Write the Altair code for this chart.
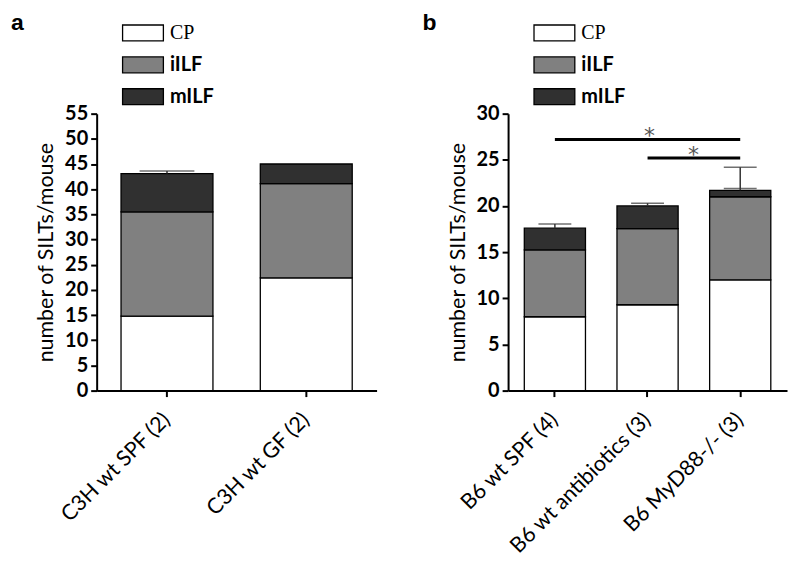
import altair as alt
import pandas as pd

# ---------------- data ----------------
segments = ["CP", "iILF", "mILF"]
seg_colors = ["#ffffff", "#808080", "#303030"]

groups_a = ["C3H wt SPF (2)", "C3H wt GF (2)"]
cp_a = [14.8, 22.4]
iilf_a = [20.7, 18.7]
milf_a = [7.6, 3.9]
errtop_a = [43.6, None]

groups_b = ["B6 wt SPF (4)", "B6 wt antibiotics (3)", "B6 MyD88-/- (3)"]
cp_b = [8.0, 9.3, 12.0]
iilf_b = [7.25, 8.25, 9.0]
milf_b = [2.35, 2.45, 0.7]
errtop_b = [18.05, 20.3, 24.2]
iilf_errtop_b = [None, None, 21.9]

sig_from = ["B6 wt SPF (4)", "B6 wt antibiotics (3)"]
sig_to = ["B6 MyD88-/- (3)", "B6 MyD88-/- (3)"]
sig_y = [27.2, 25.2]
star_group = ["B6 wt antibiotics (3)", "B6 MyD88-/- (3)"]

FONT = "Lato"


def stacked_rows(groups, cp, il, ml):
    rows = []
    for g, a, b, c in zip(groups, cp, il, ml):
        s = 0.0
        for seg, v in zip(segments, [a, b, c]):
            rows.append(dict(group=g, segment=seg, start=s, end=s + v))
            s += v
    return pd.DataFrame(rows)


def xscale(groups):
    return alt.Scale(domain=groups, paddingInner=0.34, paddingOuter=0.175)


def xaxis():
    return alt.Axis(
        title=None,
        labelAngle=-45,
        labelAlign="right",
        labelBaseline="middle",
        labelPadding=20,
        labelFontSize=21.5,
        labelFont=FONT,
        labelLimit=0,
    )


def ysettings(ymax):
    scale = alt.Scale(domain=[0, ymax], nice=False)
    axis = alt.Axis(
        title="number of SILTs/mouse",
        values=list(range(0, ymax + 1, 5)),
        labelOverlap=False,
        labelFontSize=20,
        labelFontWeight="bold",
        labelFont=FONT,
        labelPadding=3,
        titleFont=FONT,
        titleFontSize=21.5,
        titleFontWeight="normal",
        titlePadding=7,
    )
    return scale, axis


def panel(groups, cp, il, ml, errtop, ymax, letter, cap, extra_caps=None):
    df = stacked_rows(groups, cp, il, ml)
    totals = [a + b + c for a, b, c in zip(cp, il, ml)]
    err = pd.DataFrame({"group": groups, "total": totals, "top": errtop}).dropna()
    ys, ya = ysettings(ymax)
    gx = alt.X("group:N", scale=xscale(groups), axis=xaxis())

    bars = alt.Chart(df).mark_bar(stroke="black", strokeWidth=1.3).encode(
        x=gx,
        y=alt.Y("start:Q", scale=ys, axis=ya),
        y2="end:Q",
        color=alt.Color(
            "segment:N",
            scale=alt.Scale(domain=segments, range=seg_colors),
            legend=alt.Legend(
                title=None,
                orient="none",
                legendX=29.5,
                legendY=-98,
                padding=0,
                rowPadding=4,
                symbolType="M-1.28,-0.5H1.28V0.5H-1.28Z",
                symbolSize=1024,
                symbolStrokeColor="black",
                symbolStrokeWidth=1.3,
                symbolOpacity=1,
                labelFontSize=20,
                labelOffset=10,
                labelColor="black",
                labelFont=alt.ExprRef("datum.label == 'CP' ? 'Liberation Serif' : 'Lato'"),
                labelFontWeight=alt.ExprRef("datum.label == 'CP' ? 'normal' : 'bold'"),
            ),
        ),
        order=alt.Order("start:Q"),
    )

    err_rule = alt.Chart(err).mark_rule(color="#333333", strokeWidth=1.5).encode(
        x=gx, y=alt.Y("total:Q", scale=ys, axis=ya), y2="top:Q"
    )
    err_cap = alt.Chart(err).mark_tick(color="#333333", thickness=1.5, size=cap).encode(
        x=gx, y=alt.Y("top:Q", scale=ys, axis=ya)
    )
    layers = [bars, err_rule, err_cap]

    if extra_caps is not None:
        ec = pd.DataFrame({"group": groups, "top": extra_caps}).dropna()
        layers.append(
            alt.Chart(ec).mark_tick(color="#333333", thickness=1.5, size=cap).encode(
                x=gx, y=alt.Y("top:Q", scale=ys, axis=ya)
            )
        )

    lab = alt.Chart(pd.DataFrame({"t": [letter]})).mark_text(
        align="left", baseline="top", fontSize=23, fontWeight="bold",
        font="Liberation Sans", color="black"
    ).encode(x=alt.value(-86), y=alt.value(-101.5), text="t:N")
    layers.append(lab)
    return layers, ys, ya


layers_a, _, _ = panel(groups_a, cp_a, iilf_a, milf_a, errtop_a, 55, "a", 55)
pa = alt.layer(*layers_a).properties(width=281, height=278)

layers_b, ysb, yab = panel(groups_b, cp_b, iilf_b, milf_b, errtop_b, 30, "b", 33,
                           extra_caps=iilf_errtop_b)

sig = pd.DataFrame({"from": sig_from, "to": sig_to, "y": sig_y})
xb = lambda f: alt.X(f, scale=xscale(groups_b), axis=xaxis())
sig_lines = alt.Chart(sig).mark_rule(color="black", strokeWidth=3).encode(
    x=xb("from:N"), x2="to:N", y=alt.Y("y:Q", scale=ysb, axis=yab)
)
stars = pd.DataFrame({"g": star_group, "y": sig_y})
star1 = alt.Chart(stars.iloc[[0]]).mark_text(
    text="*", fontSize=22, color="#555555", baseline="alphabetic", dy=4, dx=2, font="DejaVu Sans"
).encode(x=xb("g:N"), y=alt.Y("y:Q", scale=ysb, axis=yab))
star2 = alt.Chart(stars.iloc[[1]]).mark_text(
    text="*", fontSize=22, color="#555555", baseline="alphabetic", dy=4, dx=-47, font="DejaVu Sans"
).encode(x=xb("g:N"), y=alt.Y("y:Q", scale=ysb, axis=yab))

pb = alt.layer(*layers_b, sig_lines, star1, star2).properties(width=280, height=278)

chart = (
    alt.hconcat(pa, pb, spacing=132, bounds="flush")
    .resolve_scale(color="independent", x="independent", y="independent")
    .resolve_legend(color="independent")
    .properties(padding={"left": 3, "top": 3, "right": 5, "bottom": 5})
    .configure_view(stroke=None)
    .configure_axis(
        domainColor="black",
        domainWidth=2,
        tickColor="black",
        tickWidth=2,
        tickSize=6,
        labelColor="black",
        titleColor="black",
        grid=False,
    )
)

chart.save("out.html", embed_options={"renderer": "svg", "actions": False})
